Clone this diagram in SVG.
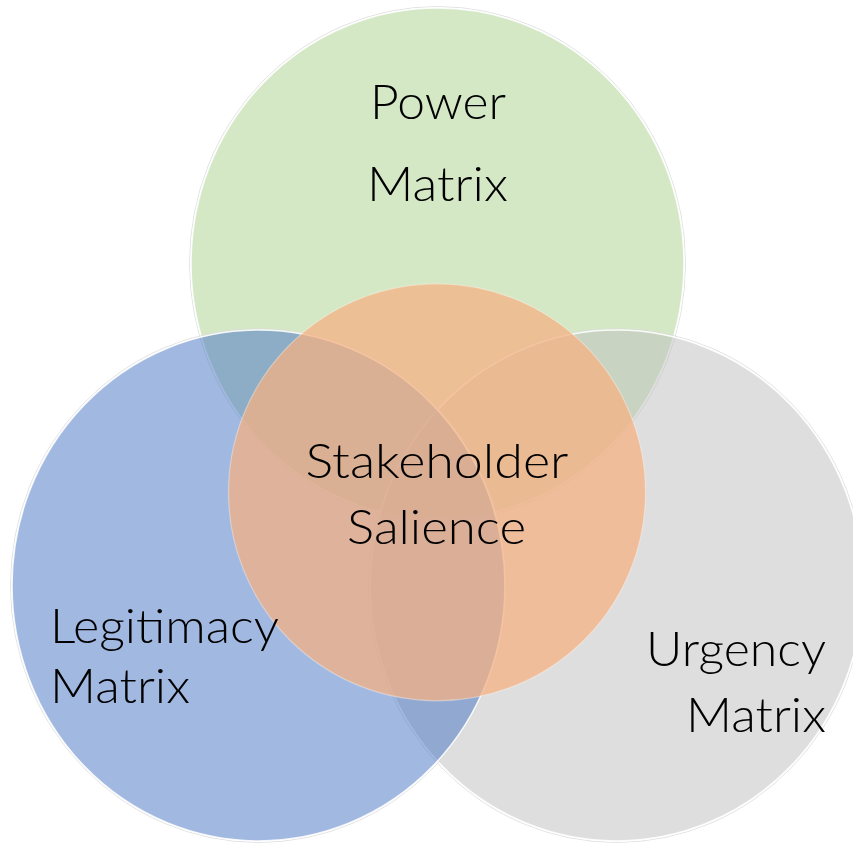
<svg xmlns="http://www.w3.org/2000/svg" width="853" height="843" viewBox="0 0 853 843">
<style>
.c{stroke:#ffffff;stroke-width:1.6;stroke-opacity:0.85}
.o{stroke:#ffffff;stroke-width:1.2;stroke-opacity:0.35}
.h{fill:none;stroke:#dadada;stroke-width:0.8}
.t{font-family:Lato,"Open Sans","Liberation Sans",sans-serif;font-weight:300;font-size:47px;fill:#000000}
</style>
<rect x="0" y="0" width="853" height="843" fill="#ffffff"/>
<g id="power">
<ellipse class="h" cx="437.5" cy="263.5" rx="248" ry="257"/>
<ellipse class="c" cx="437.5" cy="263.5" rx="246.5" ry="255.5" fill="#A9D18E" fill-opacity="0.5"/>
</g>
<g id="urgency">
<ellipse class="h" cx="616.5" cy="585.5" rx="248" ry="257"/>
<ellipse class="c" cx="616.5" cy="585.5" rx="246.5" ry="255.5" fill="#BDBDBD" fill-opacity="0.5"/>
</g>
<g id="legitimacy">
<ellipse class="h" cx="258.5" cy="585.5" rx="248" ry="257"/>
<ellipse class="c" cx="258.5" cy="585.5" rx="246.5" ry="255.5" fill="#4472C4" fill-opacity="0.5"/>
</g>
<g id="salience">
<circle class="o" cx="437" cy="492.3" r="208.5" fill="#F4B183" fill-opacity="0.75"/>
</g>
<g id="labels">
<text class="t" x="438" y="119" text-anchor="middle" textLength="136" lengthAdjust="spacingAndGlyphs">Power</text>
<text class="t" x="437.5" y="201" text-anchor="middle" textLength="141" lengthAdjust="spacingAndGlyphs">Matrix</text>
<text class="t" x="437" y="478" text-anchor="middle" textLength="263" lengthAdjust="spacingAndGlyphs">Stakeholder</text>
<text class="t" x="436.5" y="543.5" text-anchor="middle" textLength="179" lengthAdjust="spacingAndGlyphs">Salience</text>
<text class="t" x="50" y="643" textLength="229" lengthAdjust="spacingAndGlyphs">Legitimacy</text>
<text class="t" x="50" y="703" textLength="140" lengthAdjust="spacingAndGlyphs">Matrix</text>
<text class="t" x="646" y="666" textLength="180" lengthAdjust="spacingAndGlyphs">Urgency</text>
<text class="t" x="686" y="731.5" textLength="140" lengthAdjust="spacingAndGlyphs">Matrix</text>
</g>
<g id="connectors"/>
</svg>
